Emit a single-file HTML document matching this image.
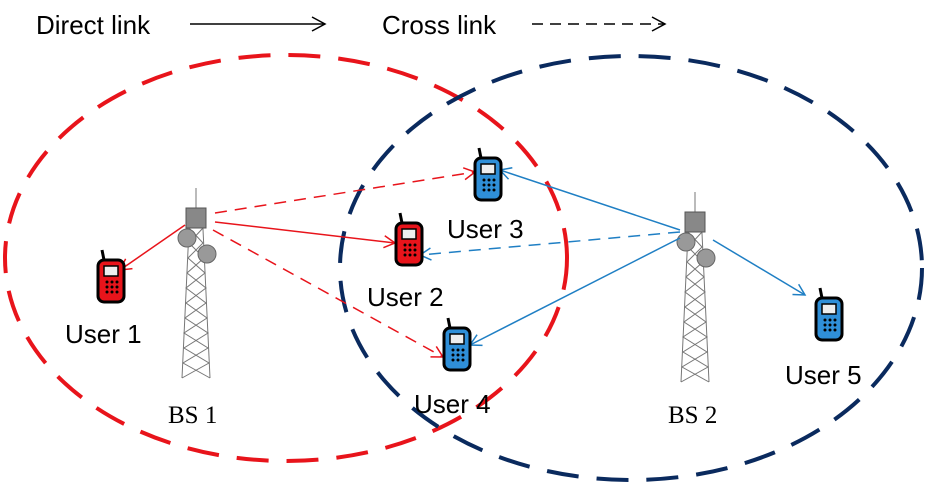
<!DOCTYPE html>
<html><head><style>body{margin:0;background:#fff}svg{display:block}</style></head><body>
<svg width="926" height="489" viewBox="0 0 926 489" xmlns="http://www.w3.org/2000/svg">
<defs>
<marker id="ar" markerWidth="14" markerHeight="14" refX="12" refY="7" orient="auto" markerUnits="userSpaceOnUse"><path d="M1,1 L12,7 L1,13" fill="none" stroke="#e8141b" stroke-width="1.5"/></marker>
<marker id="ab" markerWidth="14" markerHeight="14" refX="12" refY="7" orient="auto" markerUnits="userSpaceOnUse"><path d="M1,1 L12,7 L1,13" fill="none" stroke="#1f7fc4" stroke-width="1.5"/></marker>
<marker id="ak" markerWidth="16" markerHeight="16" refX="14" refY="8" orient="auto" markerUnits="userSpaceOnUse"><path d="M1,1 L14,8 L1,15" fill="none" stroke="#000" stroke-width="1.5"/></marker>
<g id="tower" stroke="#777" fill="none" stroke-width="1">
<path d="M-6,0 L-14,170 M6,0 L14,170 M0,-20 L0,0"/>
<path d="M-7,20 L7,35 L-8,50 L9,65 L-10,80 L10,95 L-11,110 L12,125 L-12,140 L13,155 L-14,170 M7,20 L-7,35 L8,50 L-9,65 L10,80 L-10,95 L11,110 L-12,125 L12,140 L-13,155 L14,170"/>
<rect x="-10" y="0" width="20" height="20" fill="#888" stroke="#555"/>
<circle cx="-9" cy="30" r="9" fill="#999" stroke="#666"/>
<circle cx="11" cy="46" r="9" fill="#999" stroke="#666"/>
</g>
<g id="phone">
<path d="M-6,-20 L-8,-30" stroke="#000" stroke-width="3"/>
<rect x="-12" y="-20" width="26" height="42" rx="6" stroke="#000" stroke-width="3"/>
<rect x="-6" y="-14" width="14" height="10" fill="#eee" stroke="#000" stroke-width="1.5"/>
<g fill="#000"><circle cx="-3" cy="2" r="1.5"/><circle cx="2" cy="2" r="1.5"/><circle cx="7" cy="2" r="1.5"/><circle cx="-3" cy="7" r="1.5"/><circle cx="2" cy="7" r="1.5"/><circle cx="7" cy="7" r="1.5"/><circle cx="-3" cy="12" r="1.5"/><circle cx="2" cy="12" r="1.5"/><circle cx="7" cy="12" r="1.5"/></g>
</g>
</defs>
<g font-family="Liberation Sans, sans-serif" font-size="26" fill="#000">
<text x="36" y="34">Direct link</text>
<text x="382" y="34">Cross link</text>
</g>
<line x1="190" y1="24" x2="325" y2="24" stroke="#000" stroke-width="1.5" marker-end="url(#ak)"/>
<line x1="532" y1="24" x2="665" y2="24" stroke="#000" stroke-width="1.5" stroke-dasharray="11,7" marker-end="url(#ak)"/>
<ellipse cx="286" cy="258" rx="281" ry="203" fill="none" stroke="#e8141b" stroke-width="4" stroke-dasharray="32,18"/>
<ellipse cx="631" cy="268" rx="291" ry="212" fill="none" stroke="#0a2a5e" stroke-width="4" stroke-dasharray="32,18"/>
<use href="#tower" x="196" y="208"/>
<use href="#tower" x="695" y="212"/>
<g stroke-width="1.5" fill="none">
<line x1="215" y1="213" x2="475" y2="172" stroke="#e8141b" stroke-dasharray="12,8" marker-end="url(#ar)"/>
<line x1="215" y1="222" x2="395" y2="243" stroke="#e8141b" marker-end="url(#ar)"/>
<line x1="213" y1="230" x2="443" y2="357" stroke="#e8141b" stroke-dasharray="12,8" marker-end="url(#ar)"/>
<line x1="185" y1="225" x2="120" y2="270" stroke="#e8141b" marker-end="url(#ar)"/>
<line x1="680" y1="230" x2="500" y2="170" stroke="#1f7fc4" marker-end="url(#ab)"/>
<line x1="680" y1="232" x2="420" y2="255" stroke="#1f7fc4" stroke-dasharray="12,8" marker-end="url(#ab)"/>
<line x1="680" y1="238" x2="470" y2="345" stroke="#1f7fc4" marker-end="url(#ab)"/>
<line x1="713" y1="240" x2="805" y2="295" stroke="#1f7fc4" marker-end="url(#ab)"/>
</g>
<use href="#phone" x="110" y="280" fill="#e8141b"/>
<use href="#phone" x="408" y="243" fill="#e8141b"/>
<use href="#phone" x="487" y="178" fill="#2f8fd8"/>
<use href="#phone" x="456" y="348" fill="#2f8fd8"/>
<use href="#phone" x="828" y="318" fill="#2f8fd8"/>
<g font-family="Liberation Sans, sans-serif" font-size="26" fill="#000">
<text x="447" y="238">User 3</text>
<text x="367" y="306">User 2</text>
<text x="65" y="343">User 1</text>
<text x="414" y="413">User 4</text>
<text x="785" y="384">User 5</text>
</g>
<g font-family="Liberation Serif, serif" font-size="25" fill="#000">
<text x="168" y="423">BS 1</text>
<text x="668" y="423">BS 2</text>
</g>
</svg>
</body></html>
